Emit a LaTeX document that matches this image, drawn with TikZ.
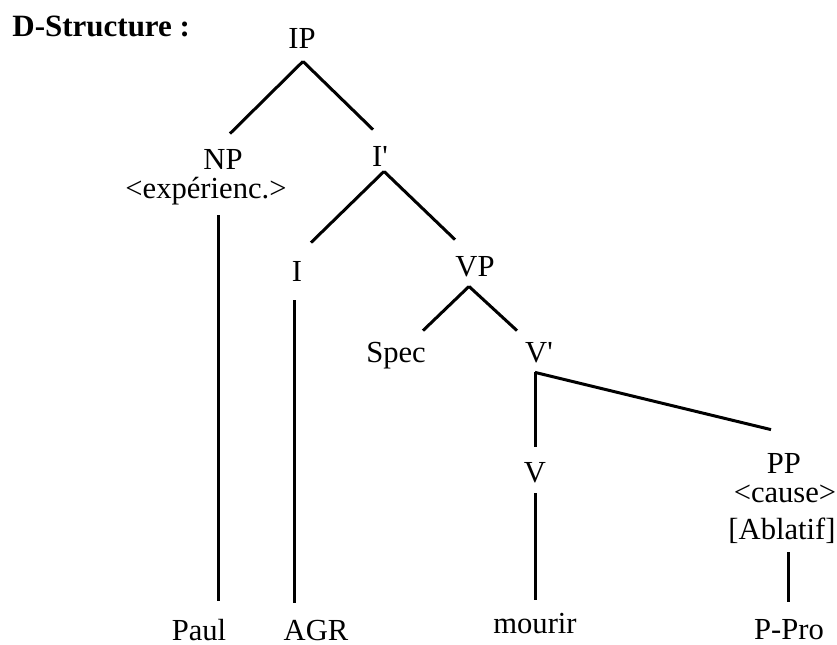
\documentclass[tikz,border=0pt]{standalone}
\usepackage{fontspec}
\setmainfont{Liberation Serif}
\usetikzlibrary{calc}

\begin{document}
\begin{tikzpicture}[x=0.5pt, y=-0.5pt,
		cat/.style={inner sep=0pt, anchor=base, text height=10pt, text depth=0pt, font=\fontsize{15.3}{18}\selectfont},
		branch/.style={line width=1.5pt}]
				\useasboundingbox (0,0) rectangle (837,644);
				\node[cat, anchor=base west, font=\fontsize{15.5}{18}\selectfont\bfseries] (Title)at(12, 36) {D-Structure :};
				\node[cat] (IP)at(302, 48) {IP};
				\node[cat] (NP)at(223, 169) {NP};
				\node[cat] (NProle)at(206, 198) {<expérienc.>};
				\node[cat] (Ibar)at(380, 166) {I\textquotesingle};
				\node[cat] (I)at(297, 281) {I};
				\node[cat] (VP)at(475, 276) {VP};
				\node[cat] (Spec)at(396, 362) {Spec};
				\node[cat] (Vbar)at(539, 362) {V\textquotesingle};
				\node[cat] (V)at(535, 482) {V};
				\node[cat] (PP)at(784, 473) {PP};
				\node[cat] (PProle)at(785, 502) {<cause>};
				\node[cat] (PPcase)at(782, 539) {[Ablatif]};
				\node[cat] (Paul)at(199, 640) {Paul};
				\node[cat] (AGR)at(316, 640) {AGR};
				\node[cat] (mourir)at(535, 633) {mourir};
				\node[cat] (PPro)at(789, 639) {P-Pro};
				\draw[branch] ($(IP.south)+(1,13)$) -- ($(NP.north)+(7,-15)$);
				\draw[branch] ($(IP.south)+(1,13)$) -- ($(Ibar.north)+(-7,-16)$);
				\draw[branch] ($(Ibar.south)+(4,5)$) -- ($(I.north)+(14,-18)$);
				\draw[branch] ($(Ibar.south)+(4,5)$) -- ($(VP.north)+(-20,-16)$);
				\draw[branch] ($(NProle.south)+(12,17)$) -- ($(Paul.north)+(19,-19)$);
				\draw[branch] ($(I.south)+(-3,19)$) -- ($(AGR.north)+(-22,-17)$);
				\draw[branch] ($(VP.south)+(-6,10)$) -- ($(Spec.north)+(27,-11)$);
				\draw[branch] ($(VP.south)+(-6,10)$) -- ($(Vbar.north)+(-22,-11)$);
				\draw[branch] ($(Vbar.south)+(-4,10)$) -- ($(V.north)+(0,-15)$);
				\draw[branch] ($(Vbar.south)+(-4,10)$) -- ($(PP.north)+(-13,-23)$);
				\draw[branch] ($(V.south)+(0,11)$) -- ($(mourir.north)+(0,-13)$);
				\draw[branch] ($(PPcase.south)+(6,13)$) -- ($(PPro.north)+(-1,-17)$);
			\end{tikzpicture}
\end{document}
